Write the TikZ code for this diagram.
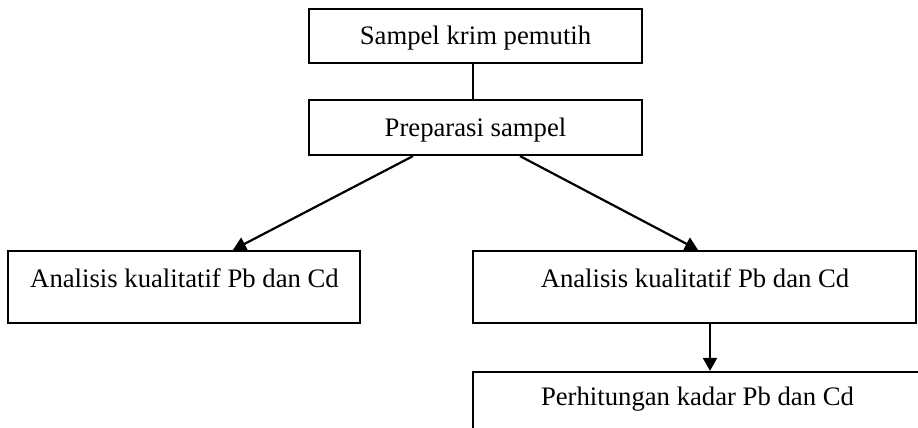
\documentclass[tikz,border=0pt]{standalone}
\usepackage{fontspec}
\setmainfont{Liberation Serif}
\usetikzlibrary{arrows.meta}
\begin{document}
\begin{tikzpicture}[x=1pt,y=-1pt,
  box/.style={draw=black, line width=2.2pt, rectangle, inner sep=0pt},
  lbl/.style={anchor=base, inner sep=0pt, font=\fontsize{26.7}{32}\selectfont},
  conn/.style={line width=2.2pt},
  arr/.style={line width=2.2pt, -{Triangle[length=13pt,width=14pt]}}]
\useasboundingbox (0,0) rectangle (918,428);
\clip (0,0) rectangle (918,428);
\node[box, minimum width=333pt, minimum height=54pt] (b1) at (475.5,36) {};
\node[box, minimum width=333pt, minimum height=55pt] (b2) at (475.5,127.5) {};
\node[box, minimum width=352pt, minimum height=72pt] (b3) at (184,287) {};
\node[box, minimum width=443pt, minimum height=72pt] (b4) at (694.5,287) {};
\node[box, minimum width=500pt, minimum height=100pt] (b5) at (723,422) {};
\node[lbl] (t1) at (475.5,45) {Sampel krim pemutih};
\node[lbl] (t2) at (475.5,136) {Preparasi sampel};
\node[lbl] (t3) at (184.5,287) {Analisis kualitatif Pb dan Cd};
\node[lbl] (t4) at (695,287) {Analisis kualitatif Pb dan Cd};
\node[lbl] (t5) at (697.5,405) {Perhitungan kadar Pb dan Cd};
\draw[conn] ([xshift=-2.5pt]b1.south) -- ([xshift=-2.5pt]b2.north);
\draw[arr] ([xshift=-62.5pt]b2.south) -- ([xshift=49pt]b3.north);
\draw[arr] ([xshift=44.5pt]b2.south) -- ([xshift=3.5pt]b4.north);
\draw[arr] ([xshift=15.5pt]b4.south) -- ([xshift=-13pt]b5.north);
\end{tikzpicture}
\end{document}
